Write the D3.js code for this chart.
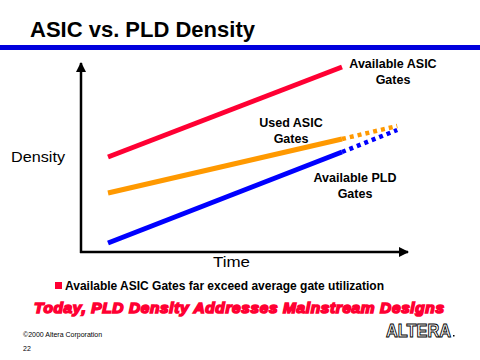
<!DOCTYPE html>
<html>
<head>
<meta charset="utf-8">
<script src="https://cdn.jsdelivr.net/npm/d3@7"></script>
<style>
  html, body { margin: 0; padding: 0; background: #fff; }
  svg { display: block; font-family: Arial, "Liberation Sans", sans-serif; }
</style>
</head>
<body>
<div id="chart"></div>
<script>
// Daten: relative Dichte (0..100) über Zeit (0..100), keine echten Einheiten
const seriesNames = ["Available ASIC Gates", "Used ASIC Gates", "Available PLD Gates"];
const seriesColors = ["#ff0033", "#ff9900", "#0000ff"];
const solidX   = [0, 72];          // durchgezogener Abschnitt
const dottedX  = [72, 89];         // gepunktete Fortsetzung
const asicAvail = [47.5, 92.5];
const asicUsed  = [29.5, 56.5, 63];
const pldAvail  = [4.5, 50, 61];
const labelLines = [["Available ASIC", "Gates"], ["Used ASIC", "Gates"], ["Available PLD", "Gates"]];

const W = 480, H = 360;
const ox = 81, oy = 252;   // Achsen-Ursprung

const svg = d3.select("#chart").append("svg").attr("width", W).attr("height", H);

// Titel + blauer Balken
svg.append("text").attr("x", 30).attr("y", 37)
  .attr("font-size", 22).attr("font-weight", 700).attr("fill", "#000")
  .text("ASIC vs. PLD Density");
svg.append("rect").attr("x", 0).attr("y", 45).attr("width", W).attr("height", 5).attr("fill", "#0000dd");

// Skalen
const x = d3.scaleLinear().domain([0, 100]).range([108, 433]);
const y = d3.scaleLinear().domain([0, 100]).range([oy, 52]);

// Pfeilspitzen
const defs = svg.append("defs");
defs.append("marker").attr("id", "arr").attr("viewBox", "0 0 10 10")
  .attr("refX", 9).attr("refY", 5).attr("markerWidth", 4).attr("markerHeight", 4)
  .attr("orient", "auto")
  .append("path").attr("d", "M0,0 L10,5 L0,10 z").attr("fill", "#000");

// Achsen
svg.append("line").attr("x1", ox).attr("y1", oy + 1).attr("x2", ox).attr("y2", 63)
  .attr("stroke", "#000").attr("stroke-width", 2.5).attr("marker-end", "url(#arr)");
svg.append("line").attr("x1", ox - 1).attr("y1", oy).attr("x2", 408).attr("y2", oy)
  .attr("stroke", "#000").attr("stroke-width", 2.5).attr("marker-end", "url(#arr)");

svg.append("text").attr("x", 11).attr("y", 162).attr("font-size", 15)
  .attr("textLength", 54).attr("lengthAdjust", "spacingAndGlyphs").text("Density");
svg.append("text").attr("x", 213).attr("y", 267).attr("font-size", 15)
  .attr("textLength", 37).attr("lengthAdjust", "spacingAndGlyphs").text("Time");

// Linien
const line = d3.line().x(d => x(d[0])).y(d => y(d[1]));
const solid = [
  [[solidX[0], asicAvail[0]], [solidX[1], asicAvail[1]]],
  [[solidX[0], asicUsed[0]], [solidX[1], asicUsed[1]]],
  [[solidX[0], pldAvail[0]], [solidX[1], pldAvail[1]]]
];
const dotted = [
  null,
  [[dottedX[0], asicUsed[1]], [dottedX[1], asicUsed[2]]],
  [[dottedX[0], pldAvail[1]], [dottedX[1], pldAvail[2]]]
];

solid.forEach((pts, i) => {
  svg.append("path").datum(pts).attr("d", line)
    .attr("fill", "none").attr("stroke", seriesColors[i]).attr("stroke-width", 5);
});
dotted.forEach((pts, i) => {
  if (!pts) return;
  svg.append("path").datum(pts).attr("d", line)
    .attr("fill", "none").attr("stroke", seriesColors[i]).attr("stroke-width", 4.5)
    .attr("stroke-dasharray", "4,4");
});

// Beschriftungen
const labelPos = [[393, 68], [291, 127], [355, 182]];
labelLines.forEach((lines, i) => {
  const t = svg.append("text").attr("text-anchor", "middle")
    .attr("font-size", 12.5).attr("font-weight", 700).attr("fill", "#000");
  lines.forEach((s, k) => {
    t.append("tspan").attr("x", labelPos[i][0]).attr("y", labelPos[i][1] + k * 15.5).text(s);
  });
});

// Aufzählung
svg.append("rect").attr("x", 55).attr("y", 282).attr("width", 7).attr("height", 7).attr("fill", "#ff0033");
svg.append("text").attr("x", 65).attr("y", 290).attr("font-size", 12).attr("font-weight", 700)
  .attr("textLength", 319).attr("lengthAdjust", "spacing")
  .text("Available ASIC Gates far exceed average gate utilization");

svg.append("text").attr("x", 34).attr("y", 313).attr("font-size", 15.5)
  .attr("font-weight", 900).attr("font-style", "italic")
  .attr("fill", "#ff0033").attr("stroke", "#ff0033").attr("stroke-width", 1.6)
  .attr("textLength", 410).attr("lengthAdjust", "spacing")
  .text("Today, PLD Density Addresses Mainstream Designs");

// Fußzeile
svg.append("text").attr("x", 23).attr("y", 337).attr("font-size", 7).text("©2000 Altera Corporation");
svg.append("text").attr("x", 23).attr("y", 351).attr("font-size", 7).text("22");

svg.append("text").attr("x", 386).attr("y", 337).attr("font-size", 19).attr("font-weight", 700)
  .attr("fill", "#fff").attr("stroke", "#000").attr("stroke-width", 1)
  .attr("textLength", 65).attr("lengthAdjust", "spacingAndGlyphs")
  .text("ALTERA");
svg.append("rect").attr("x", 453).attr("y", 335).attr("width", 1.5).attr("height", 1.5).attr("fill", "#000");
</script>
</body>
</html>
